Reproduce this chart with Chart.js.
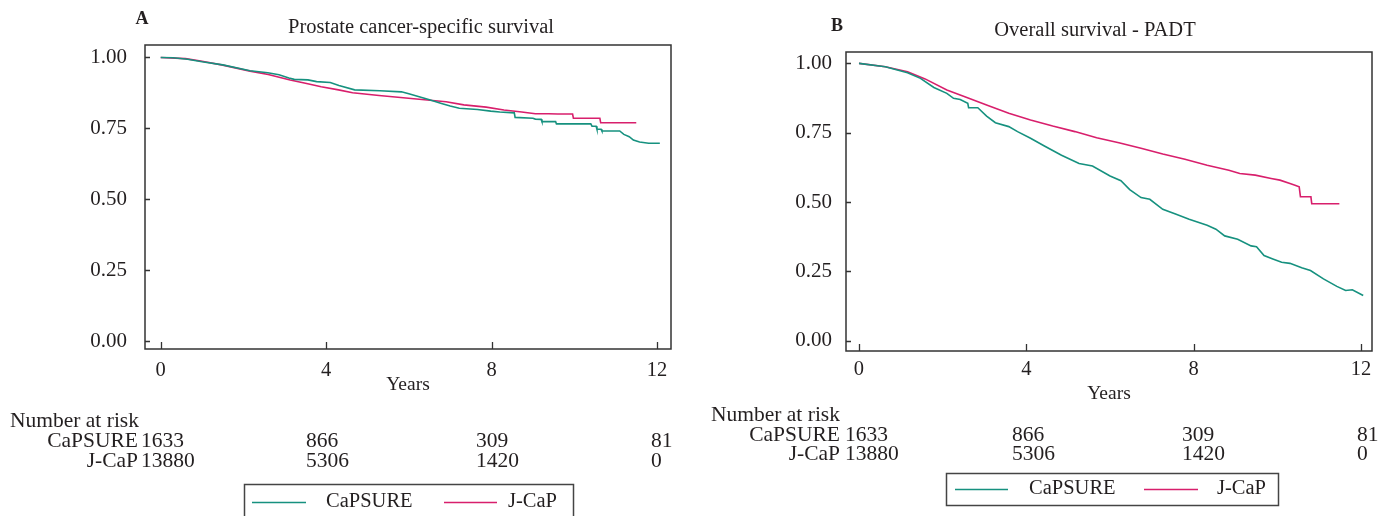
<!DOCTYPE html>
<html>
<head>
<meta charset="utf-8">
<script src="https://cdn.jsdelivr.net/npm/chart.js@4.4.1/dist/chart.umd.min.js"></script>
<style>
  html, body { margin: 0; padding: 0; background: #ffffff; }
  #wrap { position: relative; width: 1392px; height: 516px; overflow: hidden; background: #fff; }
  canvas { position: absolute; top: 0; }
</style>
</head>
<body>
<div id="wrap">
  <canvas id="chartA" width="696" height="516" style="left:0px"></canvas>
  <canvas id="chartB" width="696" height="516" style="left:696px"></canvas>
</div>
<script>
// ---------------- DATA ----------------
const seriesNames = ["CaPSURE", "J-CaP"];
const xTicks = [0, 4, 8, 12];
const yTicks = [0, 0.25, 0.5, 0.75, 1];
const riskCapsure = [1633, 866, 309, 81];
const riskJcap = [13880, 5306, 1420, 0];

// Panel A: Prostate cancer-specific survival
const timeA_capsure = [0, 0.3, 0.65, 1.0, 1.5, 2.16, 2.59, 2.86, 3.1, 3.23, 3.56, 3.77, 4.1, 4.31, 4.69, 5.3, 5.82, 6.0, 6.25, 6.5, 6.79, 7.0, 7.22, 7.66, 7.98, 8.2, 8.55, 8.57, 9.0, 9.06, 9.2, 9.22, 9.55, 9.57, 10.40, 10.43, 10.53, 10.55, 10.65, 10.67, 11.1, 11.2, 11.33, 11.43, 11.58, 11.8, 12.07];
const survA_capsure = [1.0, 0.999, 0.994, 0.985, 0.974, 0.953, 0.946, 0.939, 0.928, 0.923, 0.921, 0.915, 0.912, 0.901, 0.886, 0.883, 0.879, 0.872, 0.862, 0.851, 0.838, 0.829, 0.821, 0.817, 0.811, 0.808, 0.805, 0.789, 0.786, 0.783, 0.782, 0.774, 0.774, 0.766, 0.766, 0.758, 0.758, 0.747, 0.747, 0.741, 0.741, 0.729, 0.721, 0.709, 0.702, 0.698, 0.698];
const timeA_jcap = [0, 0.6, 1.0, 1.5, 2.16, 2.6, 3.13, 3.5, 3.88, 4.3, 4.64, 5.28, 5.8, 6.25, 6.9, 7.33, 7.87, 8.3, 8.73, 9.06, 9.38, 9.6, 9.96, 9.98, 10.62, 10.64, 11.5];
const survA_jcap = [1.0, 0.996, 0.987, 0.973, 0.952, 0.940, 0.921, 0.909, 0.897, 0.886, 0.876, 0.866, 0.859, 0.853, 0.844, 0.833, 0.825, 0.815, 0.808, 0.802, 0.802, 0.801, 0.801, 0.786, 0.786, 0.770, 0.770];

// Panel B: Overall survival - PADT
const timeB_capsure = [0, 0.63, 1.16, 1.47, 1.79, 2.1, 2.26, 2.42, 2.6, 2.62, 2.84, 3.05, 3.26, 3.58, 3.79, 4.1, 4.42, 4.84, 5.26, 5.58, 6.0, 6.26, 6.47, 6.74, 6.95, 7.26, 7.58, 7.89, 8.32, 8.53, 8.74, 9.05, 9.37, 9.5, 9.68, 9.89, 10.1, 10.3, 10.58, 10.79, 11.1, 11.42, 11.63, 11.79, 12.05];
const survB_capsure = [1.0, 0.988, 0.966, 0.946, 0.913, 0.892, 0.874, 0.870, 0.856, 0.840, 0.840, 0.810, 0.786, 0.772, 0.754, 0.730, 0.703, 0.669, 0.639, 0.630, 0.594, 0.577, 0.545, 0.516, 0.510, 0.474, 0.456, 0.438, 0.416, 0.402, 0.378, 0.366, 0.342, 0.339, 0.307, 0.295, 0.283, 0.279, 0.263, 0.253, 0.223, 0.196, 0.181, 0.184, 0.163];
const timeB_jcap = [0, 0.63, 1.16, 1.58, 2.1, 2.53, 3.05, 3.58, 4.1, 4.63, 5.16, 5.68, 6.21, 6.74, 7.26, 7.79, 8.32, 8.84, 9.1, 9.47, 9.85, 10.06, 10.3, 10.42, 10.52, 10.55, 10.8, 10.82, 11.48];
const survB_jcap = [1.0, 0.988, 0.970, 0.944, 0.904, 0.880, 0.850, 0.820, 0.796, 0.774, 0.754, 0.732, 0.714, 0.694, 0.673, 0.654, 0.633, 0.615, 0.603, 0.597, 0.585, 0.579, 0.567, 0.561, 0.555, 0.519, 0.519, 0.494, 0.494];

// ---------------- STYLE / LAYOUT ----------------
const COLOR_TEAL = '#16917f';
const COLOR_MAGENTA = '#d81f6c';
const TEXT = '#231f20';
const FRAME = '#333333';
const SERIF = '"Liberation Serif", "DejaVu Serif", serif';

function pts(t, v) { return t.map((x, i) => ({ x: x, y: v[i] })); }

const panelPlugin = {
  id: 'panelDecor',
  afterDraw(chart, args, o) {
    const ctx = chart.ctx;
    const ca = chart.chartArea;
    const xs = chart.scales.x, ys = chart.scales.y;
    ctx.save();
    // frame
    ctx.strokeStyle = FRAME;
    ctx.lineWidth = 1.5;
    ctx.strokeRect(ca.left, ca.top, ca.right - ca.left, ca.bottom - ca.top);
    // inward tick marks
    ctx.lineWidth = 1.3;
    ctx.beginPath();
    xTicks.forEach(v => {
      const px = Math.round(xs.getPixelForValue(v)) + 0.5;
      ctx.moveTo(px, ca.bottom);
      ctx.lineTo(px, ca.bottom - 7);
    });
    yTicks.forEach(v => {
      const py = Math.round(ys.getPixelForValue(v)) + 0.5;
      ctx.moveTo(ca.left, py);
      ctx.lineTo(ca.left + 5, py);
    });
    ctx.stroke();

    ctx.fillStyle = TEXT;
    ctx.textBaseline = 'middle';
    // panel letter
    ctx.font = 'bold 18px ' + SERIF;
    ctx.textAlign = 'center';
    ctx.fillText(o.letter, o.letterX, o.letterY);
    // title
    ctx.font = '20.5px ' + SERIF;
    ctx.fillText(o.title, o.titleX, o.titleY);

    // number at risk table
    ctx.font = '21.5px ' + SERIF;
    ctx.textAlign = 'left';
    ctx.fillText('Number at risk', o.riskHeaderX, o.riskHeaderY);
    const rows = [riskCapsure, riskJcap];
    rows.forEach((row, r) => {
      const y = o.riskRowY[r];
      ctx.textAlign = 'right';
      ctx.fillText(seriesNames[r], o.riskLabelRight, y);
      ctx.textAlign = 'left';
      row.forEach((n, c) => ctx.fillText(String(n), o.riskCols[c], y));
    });

    // legend box
    const lg = o.legend;
    ctx.strokeStyle = '#444444';
    ctx.lineWidth = 1.5;
    ctx.strokeRect(lg.box[0] + 0.5, lg.box[1] + 0.5, lg.box[2] - lg.box[0], lg.box[3] - lg.box[1]);
    const colors = [COLOR_TEAL, COLOR_MAGENTA];
    ctx.font = '20.5px ' + SERIF;
    lg.items.forEach((it, i) => {
      ctx.strokeStyle = colors[i];
      ctx.lineWidth = 1.5;
      ctx.beginPath();
      ctx.moveTo(it.x1, lg.textY + 0.5);
      ctx.lineTo(it.x2, lg.textY + 0.5);
      ctx.stroke();
      ctx.fillStyle = TEXT;
      ctx.textAlign = 'left';
      ctx.fillText(seriesNames[i], it.tx, lg.textY);
    });
    ctx.restore();
  }
};

function makeChart(id, dsets, L) {
  return new Chart(document.getElementById(id), {
    type: 'line',
    data: {
      datasets: [
        { label: seriesNames[0], data: dsets[0], borderColor: COLOR_TEAL, borderWidth: 1.6, pointRadius: 0, tension: 0, fill: false },
        { label: seriesNames[1], data: dsets[1], borderColor: COLOR_MAGENTA, borderWidth: 1.6, pointRadius: 0, tension: 0, fill: false }
      ]
    },
    options: {
      responsive: false,
      animation: false,
      devicePixelRatio: 1,
      layout: { padding: L.padding },
      plugins: {
        legend: { display: false },
        tooltip: { enabled: false },
        title: { display: false },
        panelDecor: L.decor
      },
      scales: {
        x: {
          type: 'linear',
          min: L.xMin, max: L.xMax,
          grid: { display: false, drawTicks: false },
          border: { display: false },
          afterBuildTicks: s => { s.ticks = xTicks.map(v => ({ value: v })); },
          afterFit: s => { s.height = L.xHeight; },
          ticks: { font: { family: SERIF, size: 20.5 }, color: TEXT, padding: L.xTickPad, maxRotation: 0, autoSkip: false },
          title: { display: true, text: 'Years', font: { family: SERIF, size: 19.5 }, color: TEXT, padding: { top: 0, bottom: L.xTitlePad } }
        },
        y: {
          type: 'linear',
          min: L.yMin, max: L.yMax,
          grid: { display: false, drawTicks: false },
          border: { display: false },
          afterBuildTicks: s => { s.ticks = yTicks.map(v => ({ value: v })); },
          afterFit: s => { s.width = L.yWidth; },
          ticks: { font: { family: SERIF, size: 21 }, color: TEXT, padding: L.yTickPad, callback: v => Number(v).toFixed(2) }
        }
      }
    },
    plugins: [panelPlugin]
  });
}

makeChart('chartA', [pts(timeA_capsure, survA_capsure), pts(timeA_jcap, survA_jcap)], {
  padding: { left: 0, right: 25, top: 45, bottom: 117 },
  xMin: -0.38, xMax: 12.34, yMin: -0.027, yMax: 1.044,
  xHeight: 50, yWidth: 145, xTickPad: 9, xTitlePad: 2, yTickPad: 18,
  decor: {
    letter: 'A', letterX: 142, letterY: 19,
    title: 'Prostate cancer-specific survival', titleX: 421, titleY: 28,
    riskHeaderX: 10, riskHeaderY: 421, riskRowY: [441, 461],
    riskLabelRight: 138, riskCols: [141, 306, 476, 651],
    legend: { box: [244, 484, 573, 530], textY: 502,
      items: [{ x1: 252, x2: 306, tx: 326 }, { x1: 444, x2: 497, tx: 508 }] }
  }
});

makeChart('chartB', [pts(timeB_capsure, survB_capsure), pts(timeB_jcap, survB_jcap)], {
  padding: { left: 0, right: 20, top: 52, bottom: 105 },
  xMin: -0.31, xMax: 12.26, yMin: -0.037, yMax: 1.041,
  xHeight: 60, yWidth: 150, xTickPad: 6, xTitlePad: 5, yTickPad: 14,
  decor: {
    letter: 'B', letterX: 141, letterY: 26,
    title: 'Overall survival - PADT', titleX: 399, titleY: 31,
    riskHeaderX: 15, riskHeaderY: 415, riskRowY: [435, 454],
    riskLabelRight: 144, riskCols: [149, 316, 486, 661],
    legend: { box: [250, 473, 582, 505], textY: 489,
      items: [{ x1: 259, x2: 312, tx: 333 }, { x1: 448, x2: 502, tx: 521 }] }
  }
});
</script>
</body>
</html>
